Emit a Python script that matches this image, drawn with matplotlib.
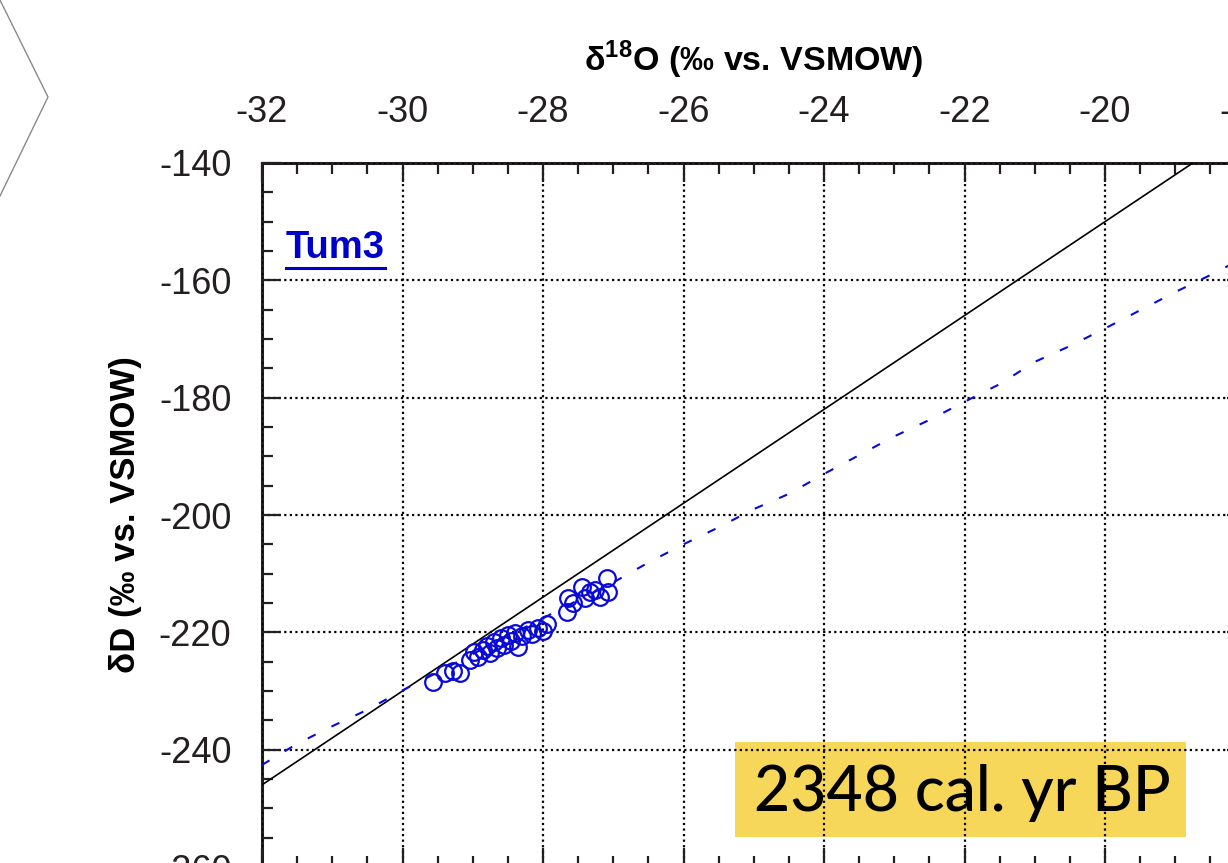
import matplotlib
matplotlib.use("Agg")
import matplotlib.pyplot as plt
from matplotlib.lines import Line2D
from matplotlib.patches import Rectangle
from matplotlib.ticker import MultipleLocator

# ---------------- data ----------------
# Tum3 samples: d18O, dD (permil vs VSMOW)
tum3_d18o = [-29.57, -29.39, -29.28, -29.18, -29.04, -28.98, -28.92, -28.85,
             -28.80, -28.75, -28.70, -28.65, -28.60, -28.55, -28.50, -28.45,
             -28.40, -28.36, -28.30, -28.22, -28.15, -28.07, -28.00, -27.94,
             -27.66, -27.64, -27.57, -27.44, -27.40, -27.33, -27.26, -27.19,
             -27.09, -27.07]
tum3_dd = [-228.5, -227.0, -226.6, -226.9, -224.7, -223.4, -224.2, -223.0,
           -222.3, -223.6, -221.7, -222.6, -221.0, -222.2, -220.5, -221.4,
           -220.1, -222.5, -220.6, -219.6, -220.2, -219.3, -219.8, -218.6,
           -216.6, -214.2, -215.0, -212.3, -214.2, -213.1, -212.8, -214.0,
           -210.8, -213.1]

# Global meteoric water line (end points)
gmwl_d18o = [-32.0, -18.0]
gmwl_dd = [-246.0, -134.0]

# Local / model line (blue dashed)
lmwl_d18o = [-32.0, -31.5, -31.0, -30.5, -30.0, -29.5, -29.0, -28.5, -28.0,
             -27.5, -27.0, -26.5, -26.0, -25.5, -25.0, -24.5, -24.0, -23.5,
             -23.0, -22.5, -22.0, -21.5, -21.0, -20.5, -20.0, -19.5, -19.0,
             -18.5, -18.0]
lmwl_dd = [-242.6, -239.0, -236.0, -233.2, -229.9, -226.8, -223.7, -220.6,
           -217.6, -214.5, -211.5, -208.1, -205.0, -202.1, -199.0, -196.4,
           -193.0, -189.8, -186.6, -183.8, -180.7, -177.7, -173.9, -171.2,
           -168.2, -165.1, -162.0, -159.1, -156.0]

x_ticks = [-32, -30, -28, -26, -24, -22, -20, -18]
y_ticks = [-140, -160, -180, -200, -220, -240, -260]

site_label = "Tum3"
age_label = "2348 cal. yr BP"

# ---------------- style ----------------
W, H = 1228, 863
plt.rcParams['font.family'] = ['Liberation Sans', 'DejaVu Sans']
plt.rcParams['mathtext.fontset'] = 'custom'
plt.rcParams['mathtext.rm'] = 'Liberation Sans'
plt.rcParams['mathtext.bf'] = 'Liberation Sans:bold'

ink = '#231f20'
blue = '#0a0ad8'

fig = plt.figure(figsize=(W / 100, H / 100), dpi=100)
# axes: left spine at 262 px, top spine at 163 px (figure pixels from top)
ax_left, ax_right = 262, 1245.5
ax_top, ax_bottom = 163, 867
ax = fig.add_axes([ax_left / W, (H - ax_bottom) / H,
                   (ax_right - ax_left) / W, (ax_bottom - ax_top) / H])

ax.set_xlim(-32, -18)
ax.set_ylim(-260, -140)

ax.set_xticks(x_ticks)
ax.set_yticks(y_ticks)
ax.xaxis.set_minor_locator(MultipleLocator(0.5))
ax.yaxis.set_minor_locator(MultipleLocator(5))
ax.set_xticklabels([str(v) for v in x_ticks])
ax.set_yticklabels([str(v) for v in y_ticks])

ax.xaxis.set_ticks_position('both')
ax.yaxis.set_ticks_position('both')
ax.xaxis.set_label_position('top')
ax.tick_params(axis='x', which='both', labeltop=True, labelbottom=False)
ax.tick_params(which='both', direction='in', colors=ink, width=1.6)
ax.tick_params(which='major', length=14, labelsize=26, labelcolor=ink)
ax.tick_params(axis='x', which='major', pad=24)
ax.tick_params(axis='y', which='major', pad=22)
ax.tick_params(which='minor', length=8)

for s in ax.spines.values():
    s.set_linewidth(2.2)
    s.set_color(ink)

ax.grid(True, which='major', color='black', linewidth=1.6,
        linestyle=(0, (1, 1.5)))
ax.set_axisbelow(False)

ax.set_xlabel(r'δ$^{\mathbf{18}}$O (‰ vs. VSMOW)', fontsize=24.5,
              fontweight='bold', color='black', labelpad=17)
ax.set_ylabel('δD (‰ vs. VSMOW)', fontsize=25, fontweight='bold',
              color='black', labelpad=12)

# lines
ax.plot(gmwl_d18o, gmwl_dd, color='black', linewidth=1.2, zorder=4)
ax.plot(lmwl_d18o, lmwl_dd, color=blue, linewidth=1.5,
        linestyle=(0, (4.2, 8.5)), zorder=4)
ax.plot(tum3_d18o, tum3_dd, linestyle='none', marker='o', markersize=12,
        markerfacecolor='none', markeredgecolor=blue, markeredgewidth=1.6,
        zorder=5)

# site label (blue, bold, underlined)
px2x = lambda px: -32 + (px - ax_left) / (ax_right - ax_left) * 14
py2y = lambda py: -140 - (py - ax_top) / (ax_bottom - ax_top) * 120
t = ax.text(px2x(286), py2y(258), site_label, color='#0000cc', fontsize=27.5,
            fontweight='bold', ha='left', va='baseline', zorder=6)

# age box (below the grid so the dotted lines show through)
box = Rectangle((735 / W, 1 - 837 / H), (1186 - 735) / W, (837 - 742) / H,
                transform=fig.transFigure, facecolor='#f6cd30', alpha=0.8,
                edgecolor='none', zorder=1, clip_on=False)
ax.add_patch(box)
ax.text(962 / W, 1 - 793 / H, age_label, transform=fig.transFigure,
        ha='center', va='center', fontsize=45, fontweight='medium',
        family=['Lato', 'DejaVu Sans'], color='black', zorder=1.5)

# chevron decoration at top-left
fig.add_artist(Line2D([0, 48 / W, 0], [1, 1 - 97 / H, 1 - 196 / H],
                      transform=fig.transFigure, color='#8a8a8a',
                      linewidth=1.0))

# underline for the site label
fig.canvas.draw()
bb = t.get_window_extent()
uy = bb.y0 - 2
fig.add_artist(Line2D([bb.x0 / W, bb.x1 / W], [uy / H, uy / H],
                      transform=fig.transFigure, color='#0000cc',
                      linewidth=2.2))

fig.savefig('out.png', dpi=100)
